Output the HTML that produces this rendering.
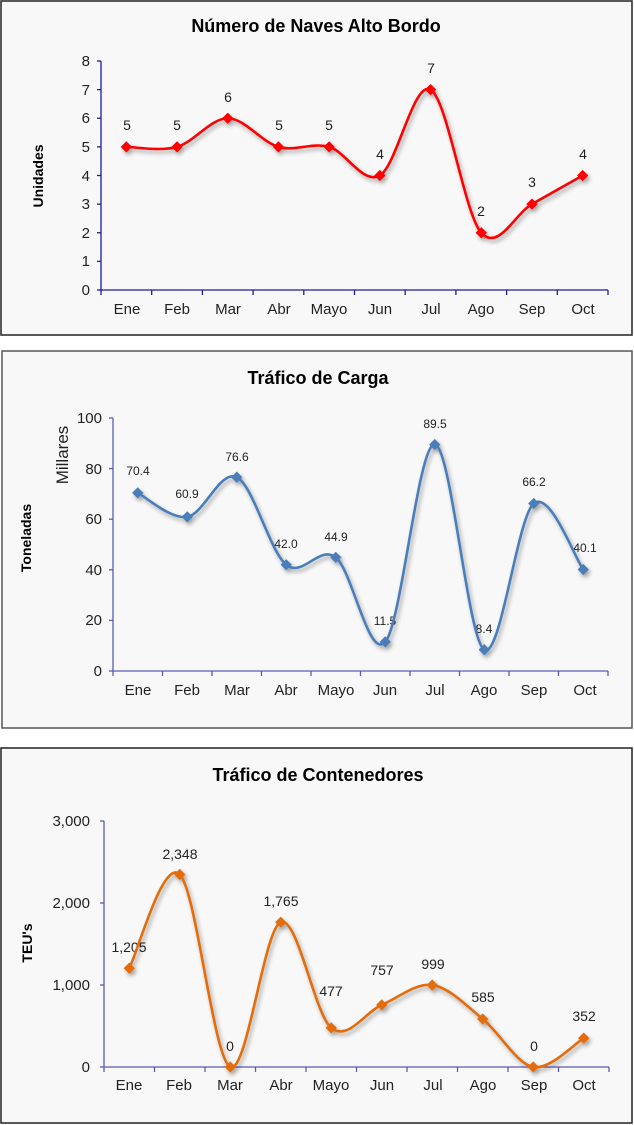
<!DOCTYPE html>
<html><head><meta charset="utf-8">
<style>
html,body{margin:0;padding:0;background:#fff;}
body{width:634px;height:1125px;position:relative;overflow:hidden;font-family:"Liberation Sans",sans-serif;}
svg{position:absolute;left:0;top:0;}
.t{font-family:"Liberation Sans",sans-serif;font-size:15px;fill:#222;}
.ti{font-family:"Liberation Sans",sans-serif;font-size:18px;font-weight:bold;fill:#000;}
.yl{font-family:"Liberation Sans",sans-serif;font-size:14px;font-weight:bold;fill:#000;}
.dl{font-family:"Liberation Sans",sans-serif;font-size:14px;fill:#222;}
.dl2{font-family:"Liberation Sans",sans-serif;font-size:12px;fill:#222;}
</style></head><body>
<svg id="s" width="634" height="1125" viewBox="0 0 634 1125">
<defs><filter id="sh" x="-10%" y="-10%" width="120%" height="130%"><feGaussianBlur in="SourceAlpha" stdDeviation="2"/><feOffset dx="2" dy="3"/><feComponentTransfer><feFuncA type="linear" slope="0.35"/></feComponentTransfer><feMerge><feMergeNode/><feMergeNode in="SourceGraphic"/></feMerge></filter></defs>
<rect x="1" y="1" width="631" height="334" fill="#f8f8f8" stroke="#222" stroke-width="1.5"/>
<rect x="2" y="351" width="630" height="377" fill="#f8f8f8" stroke="#555" stroke-width="1.5"/>
<rect x="1" y="748" width="631" height="375" fill="#f8f8f8" stroke="#222" stroke-width="1.5"/>

<text class="ti" x="316" y="32" text-anchor="middle">Número de Naves Alto Bordo</text>
<text class="yl" transform="translate(43,176) rotate(-90)" text-anchor="middle">Unidades</text>
<g class="t" text-anchor="end">
<text x="90" y="66">8</text><text x="90" y="95">7</text><text x="90" y="123">6</text><text x="90" y="152">5</text><text x="90" y="181">4</text><text x="90" y="209">3</text><text x="90" y="238">2</text><text x="90" y="266">1</text><text x="90" y="295">0</text>
</g>
<g class="t" text-anchor="middle">
<text x="127" y="314">Ene</text><text x="177" y="314">Feb</text><text x="228" y="314">Mar</text><text x="279" y="314">Abr</text><text x="329" y="314">Mayo</text><text x="380" y="314">Jun</text><text x="431" y="314">Jul</text><text x="481" y="314">Ago</text><text x="532" y="314">Sep</text><text x="583" y="314">Oct</text>
</g>
<g class="dl" text-anchor="middle">
<text x="127" y="130">5</text><text x="177" y="130">5</text><text x="228" y="102">6</text><text x="279" y="130">5</text><text x="329" y="130">5</text><text x="380" y="159">4</text><text x="431" y="73">7</text><text x="481" y="216">2</text><text x="532" y="187">3</text><text x="583" y="159">4</text>
</g>
<g id="c1"></g>

<text class="ti" x="318" y="384" text-anchor="middle">Tráfico de Carga</text>
<text class="yl" transform="translate(31,538) rotate(-90)" text-anchor="middle">Toneladas</text>
<text transform="translate(68,455) rotate(-90)" text-anchor="middle" style="font-family:'Liberation Sans',sans-serif;font-size:17px;fill:#222">Millares</text>
<g class="t" text-anchor="end">
<text x="102" y="423">100</text><text x="102" y="474">80</text><text x="102" y="524">60</text><text x="102" y="575">40</text><text x="102" y="625">20</text><text x="102" y="676">0</text>
</g>
<g class="t" text-anchor="middle">
<text x="138" y="695">Ene</text><text x="187" y="695">Feb</text><text x="237" y="695">Mar</text><text x="286" y="695">Abr</text><text x="336" y="695">Mayo</text><text x="385" y="695">Jun</text><text x="435" y="695">Jul</text><text x="484" y="695">Ago</text><text x="534" y="695">Sep</text><text x="585" y="695">Oct</text>
</g>
<g class="dl2" text-anchor="middle">
<text x="138" y="475">70.4</text><text x="187" y="498">60.9</text><text x="237" y="461">76.6</text><text x="286" y="548">42.0</text><text x="336" y="541">44.9</text><text x="385" y="625">11.5</text><text x="435" y="428">89.5</text><text x="484" y="633">8.4</text><text x="534" y="486">66.2</text><text x="585" y="552">40.1</text>
</g>
<g id="c2"></g>

<text class="ti" x="318" y="781" text-anchor="middle">Tráfico de Contenedores</text>
<text class="yl" transform="translate(32,943) rotate(-90)" text-anchor="middle">TEU's</text>
<g class="t" text-anchor="end">
<text x="90" y="826">3,000</text><text x="90" y="908">2,000</text><text x="90" y="990">1,000</text><text x="90" y="1072">0</text>
</g>
<g class="t" text-anchor="middle">
<text x="129" y="1090">Ene</text><text x="179" y="1090">Feb</text><text x="230" y="1090">Mar</text><text x="281" y="1090">Abr</text><text x="331" y="1090">Mayo</text><text x="382" y="1090">Jun</text><text x="433" y="1090">Jul</text><text x="483" y="1090">Ago</text><text x="534" y="1090">Sep</text><text x="584" y="1090">Oct</text>
</g>
<g class="dl" text-anchor="middle">
<text x="129" y="952">1,205</text><text x="180" y="859">2,348</text><text x="230" y="1051">0</text><text x="281" y="906">1,765</text><text x="331" y="996">477</text><text x="382" y="975">757</text><text x="433" y="969">999</text><text x="483" y="1002">585</text><text x="534" y="1051">0</text><text x="584" y="1021">352</text>
</g>
<g id="c3"></g>
</svg>
<script>
function build(id,x0,x1,y0,y1,vmax,vals,color,axisColor,nt){
  var g=document.getElementById(id),h="";
  var n=vals.length,sp=(x1-x0)/n;
  var pts=vals.map(function(v,i){return [x0+sp*(i+0.5),y0-(y0-y1)*v/vmax];});
  h+='<line x1="'+x0+'" y1="'+y1+'" x2="'+x0+'" y2="'+y0+'" stroke="'+axisColor+'" stroke-width="1.3"/>';
  h+='<line x1="'+x0+'" y1="'+y0+'" x2="'+x1+'" y2="'+y0+'" stroke="'+axisColor+'" stroke-width="1.3"/>';
  for(var k=0;k<=nt;k++){var yy=y0-(y0-y1)*k/nt;h+='<line x1="'+(x0-4)+'" y1="'+yy+'" x2="'+x0+'" y2="'+yy+'" stroke="'+axisColor+'" stroke-width="1.3"/>';}
  for(var i=0;i<=n;i++){var xx=x0+sp*i;h+='<line x1="'+xx+'" y1="'+y0+'" x2="'+xx+'" y2="'+(y0+5)+'" stroke="'+axisColor+'" stroke-width="1.3"/>';}
  var d="M"+pts[0][0]+","+pts[0][1];
  for(var i=0;i<n-1;i++){
    var p0=pts[i-1]||pts[i],p1=pts[i],p2=pts[i+1],p3=pts[i+2]||p2;
    var c1=[p1[0]+(p2[0]-p0[0])/6,p1[1]+(p2[1]-p0[1])/6];
    var c2=[p2[0]-(p3[0]-p1[0])/6,p2[1]-(p3[1]-p1[1])/6];
    d+=" C"+c1[0]+","+c1[1]+" "+c2[0]+","+c2[1]+" "+p2[0]+","+p2[1];
  }
  var s='<g filter="url(#sh)"><path d="'+d+'" fill="none" stroke="'+color+'" stroke-width="2.6"/>';
  pts.forEach(function(p){s+='<rect x="'+(p[0]-4)+'" y="'+(p[1]-4)+'" width="8" height="8" fill="'+color+'" transform="rotate(45 '+p[0]+' '+p[1]+')"/>';});
  s+='</g>';
  g.innerHTML=h+s;
}
build("c1",101,608,290,61,8,[5,5,6,5,5,4,7,2,3,4],"#ff0000","#1c1c9c",8);
build("c2",113,608,671,418,100,[70.4,60.9,76.6,42.0,44.9,11.5,89.5,8.4,66.2,40.1],"#4a7ebb","#5a5ab8",5);
build("c3",104,609,1067,821,3000,[1205,2348,0,1765,477,757,999,585,0,352],"#e36c09","#5a5ab8",3);
</script>
</body></html>
